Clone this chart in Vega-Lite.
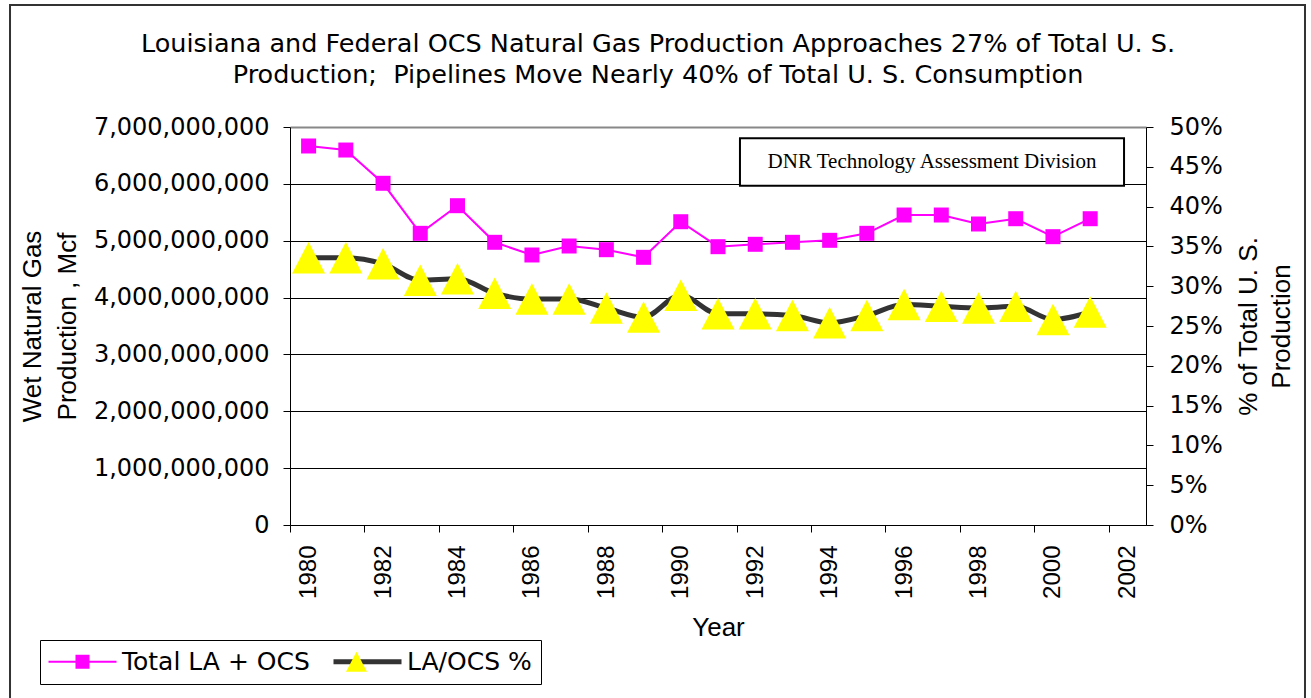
{
  "$schema": "https://vega.github.io/schema/vega-lite/v6.json",
  "width": 856,
  "height": 398,
  "autosize": {"type": "none"},
  "padding": {"left": 290, "top": 127, "right": 165, "bottom": 173},
  "background": "white",
  "config": {"view": {"stroke": null}, "font": "DejaVu Sans"},
  "title": {
    "text": ["Louisiana and Federal OCS Natural Gas Production Approaches 27% of Total U. S.", "Production;\u00a0 Pipelines Move Nearly 40% of Total U. S. Consumption"],
    "font": "DejaVu Sans", "fontSize": 25.5, "fontWeight": "normal", "color": "black", "lineHeight": 31, "offset": -85, "anchor": "middle", "frame": "group", "dx": -60
  },
  "data": {"values": [
    {"Year": 1980, "total": 6666000000, "pct": 0.3358},
    {"Year": 1981, "total": 6595000000, "pct": 0.3358},
    {"Year": 1982, "total": 6010000000, "pct": 0.3281},
    {"Year": 1983, "total": 5130000000, "pct": 0.3074},
    {"Year": 1984, "total": 5616000000, "pct": 0.3094},
    {"Year": 1985, "total": 4972000000, "pct": 0.2911},
    {"Year": 1986, "total": 4749000000, "pct": 0.2839},
    {"Year": 1987, "total": 4907000000, "pct": 0.2839},
    {"Year": 1988, "total": 4842000000, "pct": 0.2726},
    {"Year": 1989, "total": 4708000000, "pct": 0.2611},
    {"Year": 1990, "total": 5334000000, "pct": 0.2886},
    {"Year": 1991, "total": 4895000000, "pct": 0.2653},
    {"Year": 1992, "total": 4937000000, "pct": 0.2653},
    {"Year": 1993, "total": 4972000000, "pct": 0.2632},
    {"Year": 1994, "total": 5007000000, "pct": 0.2540},
    {"Year": 1995, "total": 5130000000, "pct": 0.2632},
    {"Year": 1996, "total": 5452000000, "pct": 0.2770},
    {"Year": 1997, "total": 5452000000, "pct": 0.2747},
    {"Year": 1998, "total": 5294000000, "pct": 0.2726},
    {"Year": 1999, "total": 5387000000, "pct": 0.2747},
    {"Year": 2000, "total": 5071000000, "pct": 0.2582},
    {"Year": 2001, "total": 5387000000, "pct": 0.2676}
  ]},
  "layer": [
    {
      "layer": [
        {
          "data": {"values": [{}]},
          "mark": {"type": "rect", "fill": null, "fillOpacity": 0, "stroke": "#333333", "strokeWidth": 2},
          "encoding": {
            "x": {"datum": 1971.977, "type": "quantitative"},
            "x2": {"datum": 2006.772},
            "y": {"datum": 9145800000, "type": "quantitative"},
            "y2": {"datum": -3300000000}
          }
        },
        {
          "data": {"values": [{}]},
          "mark": {"type": "rect", "fill": "white", "stroke": "black", "strokeWidth": 2},
          "encoding": {
            "x": {"datum": 1991.59, "type": "quantitative"},
            "x2": {"datum": 2001.91},
            "y": {"datum": 6801000000, "type": "quantitative"},
            "y2": {"datum": 5968000000}
          }
        },
        {
          "data": {"values": [{}]},
          "mark": {"type": "text", "font": "Liberation Serif", "fontSize": 21, "color": "black", "align": "center", "baseline": "middle"},
          "encoding": {
            "x": {"datum": 1996.75, "type": "quantitative"},
            "y": {"datum": 6390000000, "type": "quantitative"},
            "text": {"value": "DNR Technology Assessment Division"}
          }
        },
        {
          "mark": {"type": "line"},
          "encoding": {
            "x": {
              "field": "Year", "type": "quantitative",
              "scale": {"domain": [1979.5, 2002.5], "nice": false, "zero": false},
              "axis": {
                "values": [1979.5, 1980.5, 1981.5, 1982.5, 1983.5, 1984.5, 1985.5, 1986.5, 1987.5, 1988.5, 1989.5, 1990.5, 1991.5, 1992.5, 1993.5, 1994.5, 1995.5, 1996.5, 1997.5, 1998.5, 1999.5, 2000.5, 2001.5, 2002.5],
                "labelExpr": "(floor(datum.value) + 1) % 2 == 0 ? toString(floor(datum.value) + 1) : ''",
                "labelOffset": 18.6, "labelAngle": -90, "labelAlign": "right", "labelBaseline": "middle",
                "labelFont": "Liberation Sans", "labelFontSize": 24, "labelColor": "black",
                "labelFlush": false, "labelOverlap": false, "labelBound": false,
                "labelPadding": 13, "tickSize": 7, "tickColor": "black", "domainColor": "black",
                "grid": false,
                "title": "Year", "titleFont": "Liberation Sans", "titleFontSize": 26, "titleFontWeight": "normal", "titleColor": "black", "titlePadding": 16
              }
            },
            "y": {
              "field": "total", "type": "quantitative",
              "scale": {"domain": [0, 7000000000], "nice": false, "zero": true},
              "axis": {
                "values": [0, 1000000000, 2000000000, 3000000000, 4000000000, 5000000000, 6000000000, 7000000000],
                "format": ",d",
                "labelFont": "DejaVu Sans", "labelFontSize": 24, "labelColor": "black", "labelPadding": 14,
                "labelOverlap": false,
                "tickSize": 7, "tickColor": "black", "domainColor": "black",
                "grid": true,
                "gridColor": {"condition": {"test": "datum.value == 7000000000", "value": "#888888"}, "value": "black"},
                "gridWidth": {"condition": {"test": "datum.value == 7000000000", "value": 2}, "value": 1},
                "title": ["Wet Natural Gas", "Production , Mcf"],
                "titleFont": "Liberation Sans", "titleFontSize": 26, "titleFontWeight": "normal", "titleColor": "black",
                "titleLineHeight": 35, "titlePadding": 13
              }
            },
            "stroke": {
              "datum": "Total LA + OCS", "type": "nominal",
              "scale": {"domain": ["Total LA + OCS", "LA/OCS %"], "range": ["#FF00FF", "#333333"]},
              "legend": {
                "orient": "none", "legendX": -250, "legendY": 513, "direction": "horizontal",
                "title": null, "symbolType": "M-3.4,0H3.4", "symbolSize": 400,
                "symbolOffset": 21, "labelOffset": 27, "columnPadding": 13, "padding": 9,
                "labelFont": "DejaVu Sans", "labelFontSize": 25, "labelColor": "black", "labelLimit": 400,
                "strokeColor": "black", "fillColor": "white", "zindex": 1
              }
            },
            "strokeWidth": {
              "datum": "Total LA + OCS", "type": "nominal",
              "scale": {"type": "point", "padding": 0, "domain": ["Total LA + OCS", "LA/OCS %"], "range": [2, 5]},
              "legend": {
                "orient": "none", "legendX": -250, "legendY": 513, "direction": "horizontal",
                "title": null, "symbolType": "M-3.4,0H3.4", "symbolSize": 400,
                "symbolOffset": 21, "labelOffset": 27, "columnPadding": 13, "padding": 9,
                "labelFont": "DejaVu Sans", "labelFontSize": 25, "labelColor": "black", "labelLimit": 400,
                "strokeColor": "black", "fillColor": "white", "zindex": 1
              }
            }
          }
        },
        {
          "mark": {"type": "point", "filled": true, "opacity": 1, "size": 459},
          "encoding": {
            "x": {"field": "Year", "type": "quantitative"},
            "y": {"field": "total", "type": "quantitative"},
            "fill": {
              "datum": "Total LA + OCS", "type": "nominal",
              "scale": {"domain": ["Total LA + OCS", "LA/OCS %", "_"], "range": ["#FF00FF", "#FFFF00", "#FFFFFF"]},
              "legend": {
                "orient": "none", "legendX": -250, "legendY": 513, "direction": "horizontal",
                "values": ["Total LA + OCS", "LA/OCS %"],
                "title": null, "symbolSize": 400, "symbolStrokeWidth": 0, "symbolOpacity": 1,
                "symbolOffset": 21, "labelOffset": 27, "columnPadding": 13, "padding": 9,
                "labelFont": "DejaVu Sans", "labelFontSize": 25, "labelOpacity": 0, "labelLimit": 400,
                "zindex": 2
              }
            },
            "shape": {
              "datum": "Total LA + OCS", "type": "nominal",
              "scale": {"domain": ["Total LA + OCS", "LA/OCS %", "_"], "range": ["M-0.7,-0.7H0.7V0.7H-0.7Z", "M0,-1L1.05,1H-1.05Z", "circle"]},
              "legend": {
                "orient": "none", "legendX": -250, "legendY": 513, "direction": "horizontal",
                "values": ["Total LA + OCS", "LA/OCS %"],
                "title": null, "symbolSize": 400, "symbolStrokeWidth": 0, "symbolOpacity": 1,
                "symbolOffset": 21, "labelOffset": 27, "columnPadding": 13, "padding": 9,
                "labelFont": "DejaVu Sans", "labelFontSize": 25, "labelOpacity": 0, "labelLimit": 400,
                "zindex": 2
              }
            }
          }
        }
      ]
    },
    {
      "layer": [
        {
          "mark": {"type": "line", "interpolate": "monotone"},
          "encoding": {
            "x": {"field": "Year", "type": "quantitative"},
            "y": {
              "field": "pct", "type": "quantitative",
              "scale": {"domain": [0, 0.5], "nice": false, "zero": true},
              "axis": {
                "orient": "right",
                "values": [0, 0.05, 0.1, 0.15, 0.2, 0.25, 0.3, 0.35, 0.4, 0.45, 0.5],
                "format": ".0%",
                "labelFont": "DejaVu Sans", "labelFontSize": 24, "labelColor": "black", "labelPadding": 16,
                "labelOverlap": false,
                "tickSize": 7, "tickColor": "black", "domainColor": "black",
                "grid": false,
                "title": ["% of Total U. S.", "Production"],
                "titleFont": "Liberation Sans", "titleFontSize": 26, "titleFontWeight": "normal", "titleColor": "black",
                "titleAngle": -90, "titleBaseline": "top", "titleLineHeight": 33, "titlePadding": -20
              }
            },
            "stroke": {"datum": "LA/OCS %", "type": "nominal"},
            "strokeWidth": {"datum": "LA/OCS %", "type": "nominal"}
          }
        },
        {
          "mark": {"type": "point", "filled": true, "opacity": 1, "size": 987},
          "encoding": {
            "x": {"field": "Year", "type": "quantitative"},
            "y": {
              "field": "pct", "type": "quantitative",
              "axis": {
                "orient": "right",
                "values": [0, 0.05, 0.1, 0.15, 0.2, 0.25, 0.3, 0.35, 0.4, 0.45, 0.5],
                "format": ".0%",
                "labelFont": "DejaVu Sans", "labelFontSize": 24, "labelColor": "black", "labelPadding": 16,
                "labelOverlap": false,
                "tickSize": 7, "tickColor": "black", "domainColor": "black",
                "grid": false,
                "title": ["% of Total U. S.", "Production"],
                "titleFont": "Liberation Sans", "titleFontSize": 26, "titleFontWeight": "normal", "titleColor": "black",
                "titleAngle": -90, "titleBaseline": "top", "titleLineHeight": 33, "titlePadding": -20
              }
            },
            "fill": {"datum": "LA/OCS %", "type": "nominal"},
            "shape": {"datum": "LA/OCS %", "type": "nominal"}
          }
        }
      ]
    }
  ],
  "resolve": {"scale": {"y": "independent"}}
}
